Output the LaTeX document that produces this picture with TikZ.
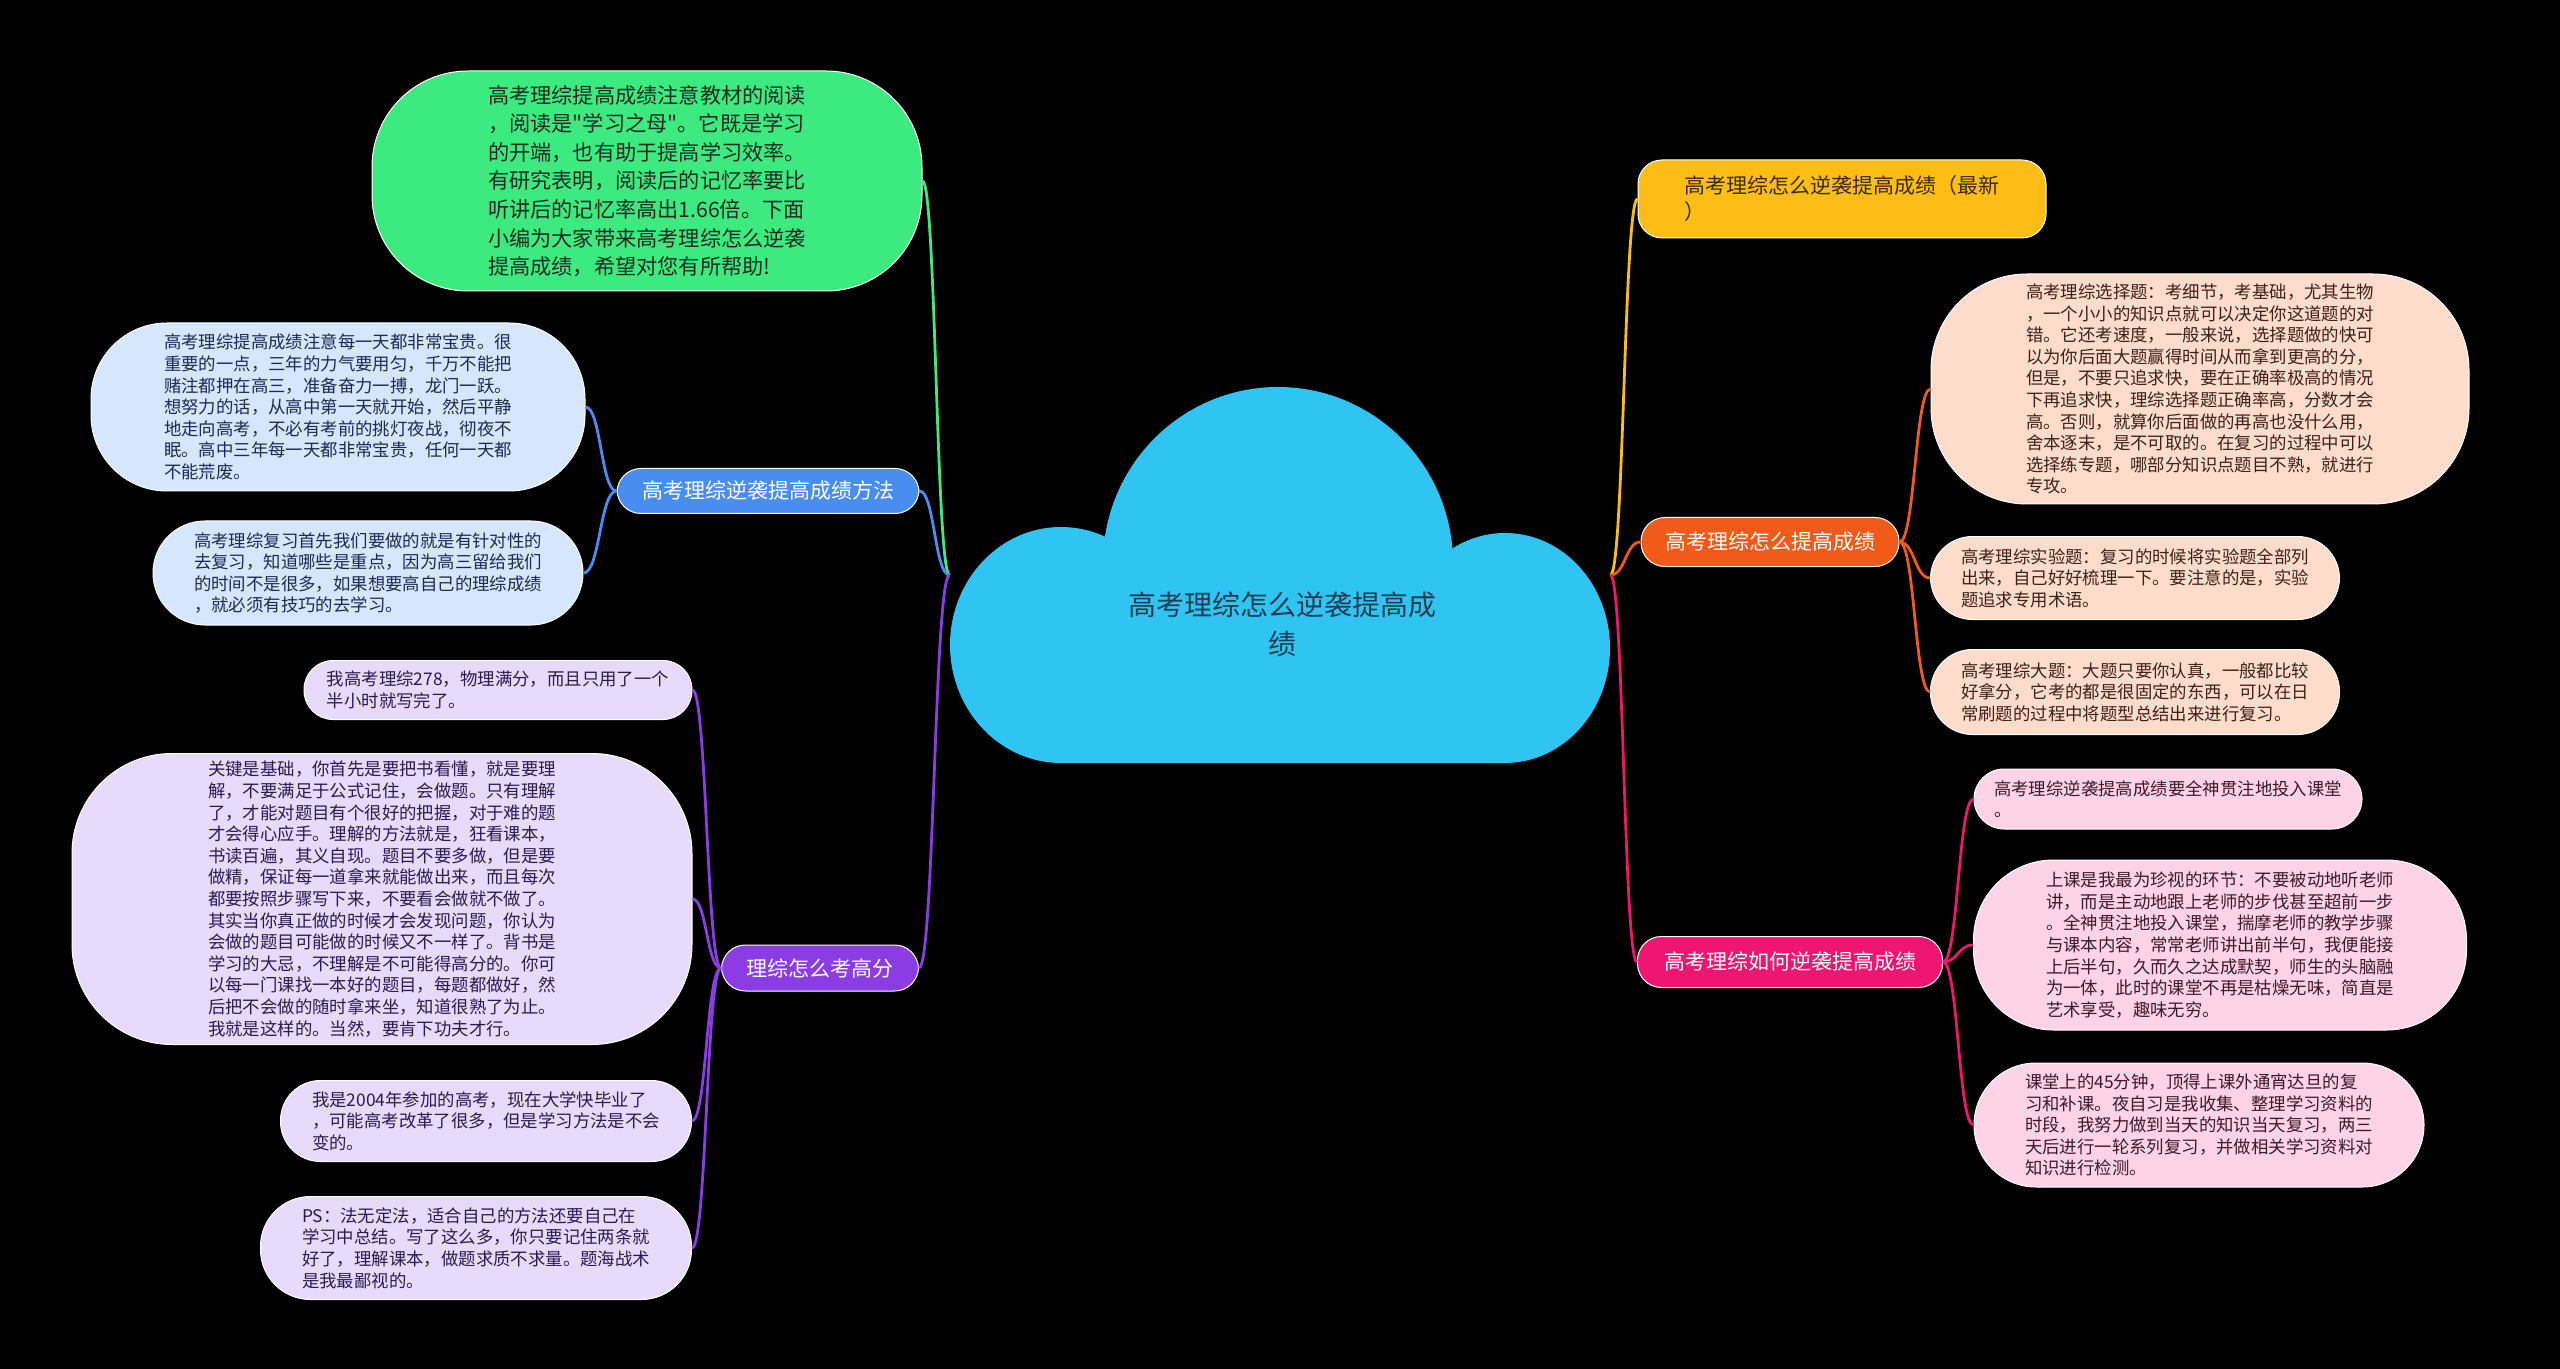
\documentclass[tikz,border=0pt]{standalone}
\usepackage{fontspec}
\setmainfont{Noto Sans CJK SC}
\newfontfamily\plainq{Noto Sans CJK SC}
\usetikzlibrary{calc}
\definecolor{cloudblue}{HTML}{2FC4F2}
\definecolor{roottext}{HTML}{1E3D50}
\definecolor{greenfill}{HTML}{3DEA80}
\definecolor{greentext}{HTML}{1C2B20}
\definecolor{bluemain}{HTML}{4A8DF0}
\definecolor{bluelight}{HTML}{D6E6FC}
\definecolor{bluetext}{HTML}{1B2A52}
\definecolor{purplemain}{HTML}{8B3DE3}
\definecolor{purplelight}{HTML}{E6DBFB}
\definecolor{purpletext}{HTML}{2B1A4F}
\definecolor{yellowmain}{HTML}{FBBD16}
\definecolor{yellowtext}{HTML}{3A2B05}
\definecolor{orangemain}{HTML}{F25A1A}
\definecolor{orangelight}{HTML}{FDDCCB}
\definecolor{orangetext}{HTML}{3B2216}
\definecolor{pinkmain}{HTML}{EE1670}
\definecolor{pinklight}{HTML}{FDD3E5}
\definecolor{pinktext}{HTML}{3A1A2A}

\begin{document}
\begin{tikzpicture}[
        x=0.5pt, y=-0.5pt,
        box/.style={draw=white, line width=0.5pt, align=left, inner sep=0pt, rounded corners=#1},
        box/.default=12pt,
        branch/.style={box, text=white, font=\fontsize{10.5pt}{13pt}\selectfont},
        leaf/.style={box=#1, font=\fontsize{8.7pt}{10.8pt}\selectfont},
        leaf/.default=14pt,
        link/.style={line width=1.4pt, to path={let \p1=(\tikztostart), \p2=(\tikztotarget) in
            .. controls ({0.5*\x1+0.5*\x2},\y1) and ({0.5*\x1+0.5*\x2},\y2) .. (\tikztotarget)}}
    ]
        \fill[black] (0,0) rectangle (2560,1369);
        \useasboundingbox (0,0) rectangle (2560,1369);

        % Central cloud
        \fill[cloudblue] (1278,563) ellipse [x radius=175, y radius=176];
        \fill[cloudblue] (1061,645) ellipse [x radius=111, y radius=118];
        \fill[cloudblue] (1505,648) ellipse [x radius=105, y radius=115];
        \fill[cloudblue] (1061,600) rectangle (1505,763);
        \node[minimum width=330pt, minimum height=188pt] (root) at (1280,575) {};
        \node[align=center, text=roottext, font=\fontsize{14pt}{19.5pt}\selectfont] (title) at (1282,624) {高考理综怎么逆袭提高成\\绩};

        % Left side
        \node[leaf=48pt, fill=greenfill, text=greentext, font=\fontsize{10.6pt}{14.3pt}\selectfont, minimum width=275pt, minimum height=110pt] (intro) at (647,181) {高考理综提高成绩注意教材的阅读\\
，阅读是{\plainq"}学习之母{\plainq"}。它既是学习\\
的开端，也有助于提高学习效率。\\
有研究表明，阅读后的记忆率要比\\
听讲后的记忆率高出1.66倍。下面\\
小编为大家带来高考理综怎么逆袭\\
提高成绩，希望对您有所帮助!};

        \node[branch, fill=bluemain, minimum width=151pt, minimum height=22.5pt] (method) at (768,491) {高考理综逆袭提高成绩方法};
        \node[leaf=38pt, fill=bluelight, text=bluetext, minimum width=247pt, minimum height=84pt] (daily) at (338,407) {高考理综提高成绩注意每一天都非常宝贵。很\\
重要的一点，三年的力气要用匀，千万不能把\\
赌注都押在高三，准备奋力一搏，龙门一跃。\\
想努力的话，从高中第一天就开始，然后平静\\
地走向高考，不必有考前的挑灯夜战，彻夜不\\
眠。高中三年每一天都非常宝贵，任何一天都\\
不能荒废。};
        \node[leaf=26pt, fill=bluelight, text=bluetext, minimum width=215pt, minimum height=52pt] (review) at (368,573) {高考理综复习首先我们要做的就是有针对性的\\
去复习，知道哪些是重点，因为高三留给我们\\
的时间不是很多，如果想要高自己的理综成绩\\
，就必须有技巧的去学习。};

        \node[branch, fill=purplemain, minimum width=98.5pt, minimum height=23pt] (score) at (820,968) {理综怎么考高分};
        \node[leaf=14.5pt, fill=purplelight, text=purpletext, minimum width=194pt, minimum height=29.5pt] (fullmark) at (498,690) {我高考理综278，物理满分，而且只用了一个\\
半小时就写完了。};
        \node[leaf=50pt, fill=purplelight, text=purpletext, minimum width=310pt, minimum height=145.5pt] (basics) at (382,899) {关键是基础，你首先是要把书看懂，就是要理\\
解，不要满足于公式记住，会做题。只有理解\\
了，才能对题目有个很好的把握，对于难的题\\
才会得心应手。理解的方法就是，狂看课本，\\
书读百遍，其义自现。题目不要多做，但是要\\
做精，保证每一道拿来就能做出来，而且每次\\
都要按照步骤写下来，不要看会做就不做了。\\
其实当你真正做的时候才会发现问题，你认为\\
会做的题目可能做的时候又不一样了。背书是\\
学习的大忌，不理解是不可能得高分的。你可\\
以每一门课找一本好的题目，每题都做好，然\\
后把不会做的随时拿来坐，知道很熟了为止。\\
我就是这样的。当然，要肯下功夫才行。};
        \node[leaf=20pt, fill=purplelight, text=purpletext, minimum width=205.5pt, minimum height=40.5pt] (year) at (486,1121) {我是2004年参加的高考，现在大学快毕业了\\
，可能高考改革了很多，但是学习方法是不会\\
变的。};
        \node[leaf=25pt, fill=purplelight, text=purpletext, minimum width=215.5pt, minimum height=51.5pt] (ps) at (476,1248) {PS：法无定法，适合自己的方法还要自己在\\
学习中总结。写了这么多，你只要记住两条就\\
好了，理解课本，做题求质不求量。题海战术\\
是我最鄙视的。};

        % Right side
        \node[branch=19.5pt, fill=yellowmain, text=yellowtext, minimum width=204pt, minimum height=39pt] (latest) at (1842,199) {高考理综怎么逆袭提高成绩（最新\\
）};

        \node[branch, fill=orangemain, minimum width=129pt, minimum height=24.5pt] (improve) at (1770,542) {高考理综怎么提高成绩};
        \node[leaf=48pt, fill=orangelight, text=orangetext, minimum width=269pt, minimum height=115pt] (choice) at (2200,389) {高考理综选择题：考细节，考基础，尤其生物\\
，一个小小的知识点就可以决定你这道题的对\\
错。它还考速度，一般来说，选择题做的快可\\
以为你后面大题赢得时间从而拿到更高的分，\\
但是，不要只追求快，要在正确率极高的情况\\
下再追求快，理综选择题正确率高，分数才会\\
高。否则，就算你后面做的再高也没什么用，\\
舍本逐末，是不可取的。在复习的过程中可以\\
选择练专题，哪部分知识点题目不熟，就进行\\
专攻。};
        \node[leaf=21pt, fill=orangelight, text=orangetext, minimum width=204.5pt, minimum height=41.5pt] (lab) at (2135,578) {高考理综实验题：复习的时候将实验题全部列\\
出来，自己好好梳理一下。要注意的是，实验\\
题追求专用术语。};
        \node[leaf=21pt, fill=orangelight, text=orangetext, minimum width=204.5pt, minimum height=42.5pt] (bigq) at (2135,692) {高考理综大题：大题只要你认真，一般都比较\\
好拿分，它考的都是很固定的东西，可以在日\\
常刷题的过程中将题型总结出来进行复习。};

        \node[branch, fill=pinkmain, minimum width=152.5pt, minimum height=25.5pt] (howto) at (1790,962) {高考理综如何逆袭提高成绩};
        \node[leaf=15pt, fill=pinklight, text=pinktext, minimum width=194pt, minimum height=30pt] (focus) at (2168,799) {高考理综逆袭提高成绩要全神贯注地投入课堂\\
。};
        \node[leaf=40pt, fill=pinklight, text=pinktext, minimum width=246.5pt, minimum height=85pt] (lesson) at (2220,945) {上课是我最为珍视的环节：不要被动地听老师\\
讲，而是主动地跟上老师的步伐甚至超前一步\\
。全神贯注地投入课堂，揣摩老师的教学步骤\\
与课本内容，常常老师讲出前半句，我便能接\\
上后半句，久而久之达成默契，师生的头脑融\\
为一体，此时的课堂不再是枯燥无味，简直是\\
艺术享受，趣味无穷。};
        \node[leaf=31pt, fill=pinklight, text=pinktext, minimum width=225pt, minimum height=62pt] (evening) at (2199,1125) {课堂上的45分钟，顶得上课外通宵达旦的复\\
习和补课。夜自习是我收集、整理学习资料的\\
时段，我努力做到当天的知识当天复习，两三\\
天后进行一轮系列复习，并做相关学习资料对\\
知识进行检测。};

        % Connectors
        \draw[link, greenfill] (root.west) to (intro.east);
        \draw[link, bluemain] (root.west) to (method.east);
        \draw[link, purplemain] (root.west) to (score.east);
        \draw[link, bluemain] (method.west) to (daily.east);
        \draw[link, bluemain] (method.west) to (review.east);
        \draw[link, purplemain] (score.west) to (fullmark.east);
        \draw[link, purplemain] (score.west) to (basics.east);
        \draw[link, purplemain] (score.west) to (year.east);
        \draw[link, purplemain] (score.west) to (ps.east);
        \draw[link, yellowmain] (root.east) to (latest.west);
        \draw[link, orangemain] (root.east) to (improve.west);
        \draw[link, pinkmain] (root.east) to (howto.west);
        \draw[link, orangemain] (improve.east) to (choice.west);
        \draw[link, orangemain] (improve.east) to (lab.west);
        \draw[link, orangemain] (improve.east) to (bigq.west);
        \draw[link, pinkmain] (howto.east) to (focus.west);
        \draw[link, pinkmain] (howto.east) to (lesson.west);
        \draw[link, pinkmain] (howto.east) to (evening.west);
    \end{tikzpicture}
\end{document}
